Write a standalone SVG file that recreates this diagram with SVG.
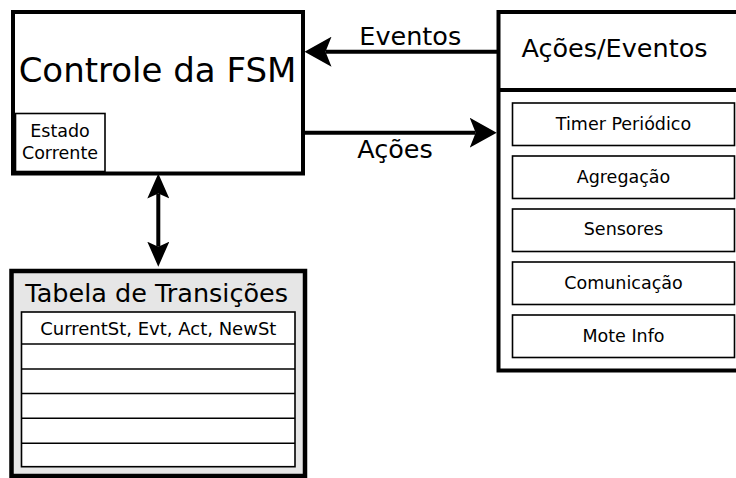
<svg xmlns="http://www.w3.org/2000/svg" width="736" height="478" viewBox="0 0 736 478">
<style>
text { font-family: "DejaVu Sans", "Liberation Sans", sans-serif; fill: #000; text-anchor: middle; }
.big { font-size: 34px; }
.mid { font-size: 25.5px; }
.small { font-size: 17.5px; }
.thick { fill: #fff; stroke: #000; stroke-width: 4; }
.thin { fill: #fff; stroke: #000; stroke-width: 1.6; }
.conn { stroke: #000; stroke-width: 4; fill: none; }
</style>
<defs>
<marker id="headH" viewBox="0 0 27 30" refX="6" refY="15" markerWidth="27" markerHeight="30" markerUnits="userSpaceOnUse" orient="auto-start-reverse">
<path d="M0,0 L27,15 L0,30 L6,15 Z" fill="#000"/>
</marker>
<marker id="headV" viewBox="0 0 25 22" refX="5" refY="11" markerWidth="25" markerHeight="22" markerUnits="userSpaceOnUse" orient="auto-start-reverse">
<path d="M0,0 L25,11 L0,22 L5,11 Z" fill="#000"/>
</marker>
</defs>

<g id="fsm">
<rect class="thick" x="13" y="12" width="290" height="161.5"/>
<text class="big" x="157.5" y="81.5">Controle da FSM</text>
</g>

<g id="estado">
<rect class="thin" x="15.5" y="113.5" width="89.5" height="58"/>
<text class="small" x="60" y="137">Estado</text>
<text class="small" x="60" y="159">Corrente</text>
</g>

<g id="acoes-eventos">
<rect class="thick" x="498.5" y="12" width="260" height="358.5"/>
<line x1="498.5" y1="90" x2="740" y2="90" stroke="#000" stroke-width="4"/>
<text class="mid" x="614.5" y="57.3">Ações/Eventos</text>
</g>

<g id="timer">
<rect class="thin" x="512.5" y="103" width="222" height="42.5"/>
<text class="small" x="623.5" y="129.5">Timer Periódico</text>
</g>
<g id="agregacao">
<rect class="thin" x="512.5" y="156" width="222" height="42.5"/>
<text class="small" x="623.5" y="182.5">Agregação</text>
</g>
<g id="sensores">
<rect class="thin" x="512.5" y="209" width="222" height="42.5"/>
<text class="small" x="623.5" y="235">Sensores</text>
</g>
<g id="comunicacao">
<rect class="thin" x="512.5" y="262" width="222" height="42.5"/>
<text class="small" x="623.5" y="288.5">Comunicação</text>
</g>
<g id="moteinfo">
<rect class="thin" x="512.5" y="315" width="222" height="42.5"/>
<text class="small" x="623.5" y="341.5">Mote Info</text>
</g>

<g id="tabela">
<rect x="11.5" y="271" width="293.5" height="205" fill="#e6e6e6" stroke="#000" stroke-width="4.5"/>
<text class="mid" x="156.7" y="301.7">Tabela de Transições</text>
<rect class="thin" x="21.5" y="312" width="273.5" height="154.7"/>
<g stroke="#000" stroke-width="1.6">
<line x1="21.5" y1="344" x2="295" y2="344"/>
<line x1="21.5" y1="369" x2="295" y2="369"/>
<line x1="21.5" y1="393.5" x2="295" y2="393.5"/>
<line x1="21.5" y1="418.3" x2="295" y2="418.3"/>
<line x1="21.5" y1="443.3" x2="295" y2="443.3"/>
</g>
<text class="small" x="158.3" y="335" style="font-size:18px">CurrentSt, Evt, Act, NewSt</text>
</g>

<g id="connectors">
<line class="conn" x1="497" y1="51.7" x2="325.5" y2="51.7" marker-end="url(#headH)"/>
<text class="mid" x="410.3" y="45">Eventos</text>
<line class="conn" x1="305" y1="132.7" x2="475.7" y2="132.7" marker-end="url(#headH)"/>
<text class="mid" x="395" y="158.3">Ações</text>
<line class="conn" x1="158.3" y1="193.5" x2="158.3" y2="246.7" marker-start="url(#headV)" marker-end="url(#headV)"/>
</g>
</svg>
